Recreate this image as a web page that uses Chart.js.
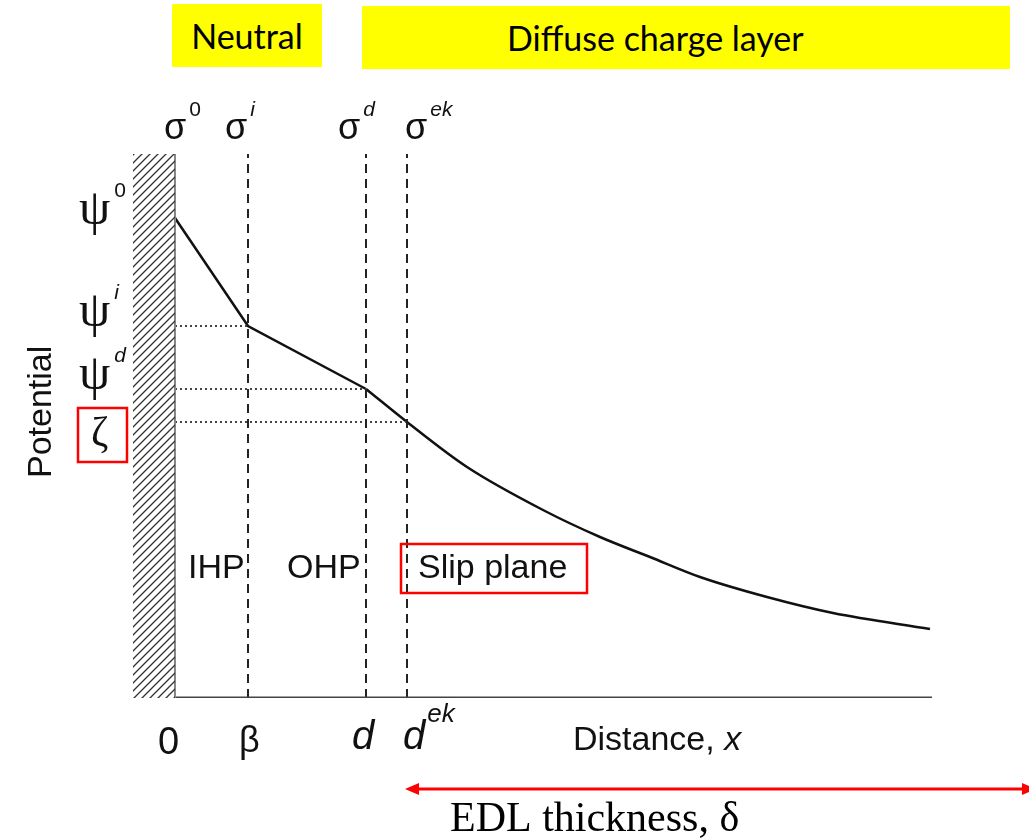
<!DOCTYPE html>
<html><head><meta charset="utf-8">
<script src="https://cdn.jsdelivr.net/npm/chart.js@4"></script>
<style>
html,body{margin:0;padding:0;background:#fff;overflow:hidden}
#wrap{position:relative;width:1029px;height:838px}
#c{position:absolute;left:0;top:0}
.yb{position:absolute;background:#ffff00;font-family:Lato,'Open Sans',sans-serif;color:#000;font-size:34px;line-height:63px;white-space:nowrap}
</style></head><body>
<div id="wrap">
<canvas id="c" width="1029" height="838"></canvas>
<div class="yb" style="left:172px;top:4px;width:150px;height:63px;text-align:center">Neutral</div>
<div class="yb" style="left:362px;top:6px;width:648px;height:63px;"><span style="position:absolute;left:145px">Diffuse charge layer</span></div>
</div>
<script>
// ---- data (schematic units) ----
const curveX = [0, 7.3, 19.1, 23.2, 29.2, 36.8, 42.5, 47.5, 52.5, 59.2, 65.8, 75.5];
const curveY = [48.0, 37.2, 30.9, 27.6, 23.1, 18.8, 16.1, 14.1, 12.1, 10.1, 8.5, 6.9];
const planeX = [7.3, 19.1, 23.2];          // β, d, d^ek
const planeY = [37.2, 30.9, 27.6];         // ψ^i, ψ^d, ζ
const planeTop = 54.4;
const wallX = [-4.2, 0];
const axisEndX = 75.7;
const xMin = -4.2, xMax = 75.7, yMin = 0, yMax = 54.8;

// hatch pattern
function hatch(){
  const s = 8;
  const p = document.createElement('canvas'); p.width = s; p.height = s;
  const g = p.getContext('2d');
  g.strokeStyle = '#333'; g.lineWidth = 1.3;
  g.beginPath();
  g.moveTo(0, s); g.lineTo(s, 0);
  g.moveTo(-1, 1); g.lineTo(1, -1);
  g.moveTo(s - 1, s + 1); g.lineTo(s + 1, s - 1);
  g.stroke();
  return g.createPattern(p, 'repeat');
}

const linPts = curveX.slice(0, 3).map((x, i) => ({x, y: curveY[i]}));
const expPts = curveX.slice(2).map((x, i) => ({x, y: curveY[i + 2]}));

const datasets = [
  { data: [{x: wallX[0], y: planeTop}, {x: wallX[1], y: planeTop}], fill: 'origin',
    backgroundColor: hatch(), borderWidth: 0, pointRadius: 0, showLine: true },
  { data: [{x: 0, y: 0}, {x: 0, y: planeTop}], borderColor: '#888', borderWidth: 2, pointRadius: 0, showLine: true },
  { data: [{x: 0, y: 0}, {x: axisEndX, y: 0}], borderColor: '#444', borderWidth: 3, pointRadius: 0, showLine: true },
];
planeX.forEach((px, i) => {
  datasets.push({ data: [{x: px, y: 0}, {x: px, y: planeTop}], borderColor: '#222', borderWidth: 2,
    borderDash: [9, 6], pointRadius: 0, showLine: true });
  datasets.push({ data: [{x: 0, y: planeY[i]}, {x: px, y: planeY[i]}], borderColor: '#444', borderWidth: 1.8,
    borderDash: [2, 3], pointRadius: 0, showLine: true });
});
datasets.push({ data: linPts, borderColor: '#111', borderWidth: 2.5, pointRadius: 0, showLine: true, tension: 0 });
datasets.push({ data: expPts, borderColor: '#111', borderWidth: 2.5, pointRadius: 0, showLine: true, cubicInterpolationMode: 'monotone' });

function supText(ctx, base, sup, x, y, bFont, sFont, dx, dy){
  ctx.font = bFont; ctx.fillText(base, x, y);
  const w = ctx.measureText(base).width;
  ctx.font = sFont; ctx.fillText(sup, x + w + (dx||0), y + dy);
}

const labels = {
  id: 'labels',
  afterDraw(chart){
    const ctx = chart.ctx, xs = chart.scales.x, ys = chart.scales.y;
    ctx.save();
    ctx.fillStyle = '#111'; ctx.textBaseline = 'alphabetic'; ctx.textAlign = 'left';
    const SANS = '"Liberation Sans", Arial, sans-serif';
    const SERIF = '"Liberation Serif", "Times New Roman", serif';
    // sigma labels
    const sig = [[0, '0', -11, 'normal'], [planeX[0], 'i', -23, 'italic'], [planeX[1], 'd', -28, 'italic'], [planeX[2], 'ek', -2, 'italic']];
    sig.forEach(([v, s, off, st]) => {
      supText(ctx, 'σ', s, xs.getPixelForValue(v) + off, 139, '36px ' + SANS, st + ' 21px ' + SANS, 3, -23);
    });
    // psi labels
    const psi = [[curveY[0], '0', 'normal'], [planeY[0], 'i', 'italic'], [planeY[1], 'd', 'italic']];
    const psiOff = [6, 0, 0];
    psi.forEach(([v, s, st], i) => {
      supText(ctx, 'ψ', s, 79, ys.getPixelForValue(v) + psiOff[i], '50px ' + SERIF, st + ' 21px ' + SANS, 4, -27);
    });
    // zeta
    ctx.font = '42px ' + SERIF;
    ctx.fillText('ζ', 91, ys.getPixelForValue(planeY[2]) + 24);
    ctx.strokeStyle = '#ff0000'; ctx.lineWidth = 2.5;
    ctx.strokeRect(78, 408, 49, 54);
    // Potential
    ctx.save();
    ctx.translate(51, 478); ctx.rotate(-Math.PI / 2);
    ctx.font = '34px ' + SANS; ctx.fillText('Potential', 0, 0);
    ctx.restore();
    // region labels
    ctx.font = '34px ' + SANS;
    ctx.fillText('IHP', 188, 578);
    ctx.fillText('OHP', 287, 578);
    ctx.fillText('Slip plane', 418, 578);
    ctx.strokeRect(401, 544, 186, 49);
    // bottom labels
    ctx.font = '38px ' + SANS;
    ctx.fillText('0', xs.getPixelForValue(0) - 17, 754);
    ctx.font = '36px ' + SANS;
    ctx.fillText('β', xs.getPixelForValue(planeX[0]) - 9, 752);
    ctx.font = 'italic 40px ' + SANS;
    ctx.fillText('d', xs.getPixelForValue(planeX[1]) - 14, 749);
    supText(ctx, 'd', 'ek', xs.getPixelForValue(planeX[2]) - 4, 749, 'italic 40px ' + SANS, 'italic 26px ' + SANS, 2, -27);
    ctx.font = '34px ' + SANS;
    const dw = ctx.measureText('Distance, ').width;
    ctx.fillText('Distance, ', 573, 750);
    ctx.font = 'italic 34px ' + SANS;
    ctx.fillText('x', 573 + dw, 750);
    // EDL arrow
    const ax0 = xs.getPixelForValue(planeX[2]) - 2, ax1 = 1036, ay = 789;
    ctx.strokeStyle = '#ff0000'; ctx.fillStyle = '#ff0000'; ctx.lineWidth = 3;
    ctx.beginPath(); ctx.moveTo(ax0 + 8, ay); ctx.lineTo(ax1 - 8, ay); ctx.stroke();
    ctx.beginPath(); ctx.moveTo(ax0, ay); ctx.lineTo(ax0 + 14, ay - 6); ctx.lineTo(ax0 + 14, ay + 6); ctx.closePath(); ctx.fill();
    ctx.beginPath(); ctx.moveTo(ax1, ay); ctx.lineTo(ax1 - 14, ay - 6); ctx.lineTo(ax1 - 14, ay + 6); ctx.closePath(); ctx.fill();
    ctx.fillStyle = '#000';
    ctx.font = '42px ' + SERIF;
    ctx.fillText('EDL thickness, δ', 450, 831);
    ctx.restore();
  }
};

new Chart(document.getElementById('c'), {
  type: 'scatter',
  data: { datasets },
  options: {
    responsive: false, animation: false, devicePixelRatio: 1,
    layout: { padding: { left: 133, right: 97, top: 150, bottom: 140 } },
    plugins: { legend: { display: false }, tooltip: { enabled: false } },
    scales: {
      x: { type: 'linear', min: xMin, max: xMax, display: false },
      y: { type: 'linear', min: yMin, max: yMax, display: false }
    },
    elements: { line: { fill: false } }
  },
  plugins: [labels]
});
</script>
</body></html>
